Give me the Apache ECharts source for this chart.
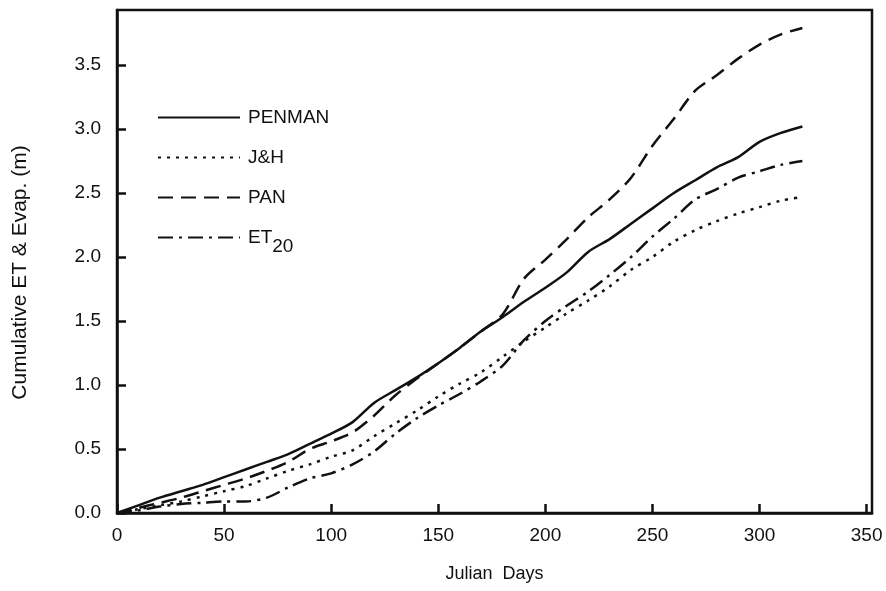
<!DOCTYPE html>
<html>
<head>
<meta charset="utf-8">
<script src="https://cdn.jsdelivr.net/npm/echarts@6/dist/echarts.min.js"></script>
<style>
  html, body { margin: 0; padding: 0; background: #fff; }
  #chart { width: 886px; height: 591px; }
</style>
</head>
<body>
<div id="chart"></div>
<script>
const days = [0, 10, 20, 30, 40, 50, 60, 70, 80, 90, 100, 110, 120, 130, 140, 150, 160,
  170, 180, 190, 200, 210, 220, 230, 240, 250, 260, 270, 280, 290, 300, 310, 320]

const penman = [0, 0.06, 0.12, 0.17, 0.22, 0.28, 0.34, 0.40, 0.46, 0.54, 0.62, 0.71, 0.86,
  0.96, 1.06, 1.17, 1.29, 1.42, 1.53, 1.65, 1.76, 1.88, 2.04, 2.14, 2.26, 2.38, 2.50,
  2.60, 2.70, 2.78, 2.90, 2.97, 3.02]
const jh = [0, 0.03, 0.06, 0.09, 0.13, 0.17, 0.21, 0.27, 0.33, 0.38, 0.44, 0.49, 0.60,
  0.70, 0.80, 0.91, 1.01, 1.10, 1.22, 1.34, 1.45, 1.56, 1.66, 1.77, 1.90, 2.00, 2.12,
  2.21, 2.28, 2.34, 2.39, 2.44, 2.47]
const pan = [0, 0.04, 0.08, 0.12, 0.17, 0.22, 0.27, 0.33, 0.40, 0.50, 0.56, 0.63, 0.76,
  0.92, 1.05, 1.17, 1.29, 1.42, 1.55, 1.83, 1.98, 2.14, 2.31, 2.45, 2.62, 2.87, 3.08,
  3.30, 3.42, 3.55, 3.66, 3.74, 3.79]
const et20 = [0, 0.02, 0.05, 0.07, 0.08, 0.09, 0.09, 0.12, 0.20, 0.27, 0.31, 0.38, 0.48,
  0.62, 0.74, 0.84, 0.93, 1.03, 1.15, 1.35, 1.50, 1.62, 1.73, 1.86, 2.00, 2.16, 2.30,
  2.45, 2.53, 2.62, 2.67, 2.72, 2.75]

const font = 'Liberation Sans, Arial, sans-serif'
const chart = echarts.init(document.getElementById('chart'))

const pair = vals => days.map((d, i) => [d, vals[i]])
const line = (name, vals, type) => ({
  name,
  type: 'line',
  data: pair(vals),
  symbol: 'none',
  smooth: 0.3,
  color: '#111',
  lineStyle: { color: '#111', width: 2.5, type },
  emphasis: { disabled: true },
})

chart.setOption({
  animation: false,
  grid: { left: 117, top: 10, right: 14, bottom: 78 },
  legend: {
    orient: 'vertical',
    left: 152,
    top: 103,
    itemWidth: 82,
    itemHeight: 14,
    itemGap: 21,
    selectedMode: false,
    itemStyle: { opacity: 0 },
    textStyle: {
      fontFamily: font, fontSize: 19, color: '#111', padding: [0, 0, 0, 3],
      rich: { sub: { fontFamily: font, fontSize: 19, color: '#111', padding: [18, 0, 0, 0] } },
    },
    formatter: n => n === 'ET20' ? 'ET{sub|20}' : n,
    data: ['PENMAN', 'J&H', 'PAN', 'ET20'],
  },
  xAxis: {
    type: 'value',
    min: 0,
    max: 352.5,
    interval: 50,
    name: 'Julian  Days',
    nameLocation: 'middle',
    nameGap: 52,
    nameTextStyle: { fontFamily: font, fontSize: 18, color: '#111' },
    axisLine: { lineStyle: { color: '#111', width: 2.5 } },
    axisTick: { inside: true, length: 9, lineStyle: { color: '#111', width: 2.5 } },
    axisLabel: { fontFamily: font, fontSize: 19, color: '#111', margin: 13, showMaxLabel: false },
    splitLine: { show: false },
  },
  yAxis: {
    type: 'value',
    min: 0,
    max: 3.93,
    interval: 0.5,
    name: 'Cumulative ET & Evap. (m)',
    nameLocation: 'middle',
    nameGap: 86,
    nameTextStyle: { fontFamily: font, fontSize: 21, color: '#111', padding: [0, 22, 0, 0] },
    axisLine: { lineStyle: { color: '#111', width: 2.5 } },
    axisTick: { inside: true, length: 9, lineStyle: { color: '#111', width: 2.5 } },
    axisLabel: {
      fontFamily: font, fontSize: 19, color: '#111', margin: 16, showMaxLabel: false,
      formatter: v => v.toFixed(1),
    },
    splitLine: { show: false },
  },
  graphic: [
    { type: 'rect', shape: { x: 117, y: 10, width: 755, height: 503 },
      style: { fill: 'none', stroke: '#111', lineWidth: 2.5 }, silent: true },
  ],
  series: [
    line('PENMAN', penman, 'solid'),
    line('J&H', jh, [3, 6]),
    line('PAN', pan, [15, 8]),
    line('ET20', et20, [15, 6, 3, 6]),
  ],
})
</script>
</body>
</html>
